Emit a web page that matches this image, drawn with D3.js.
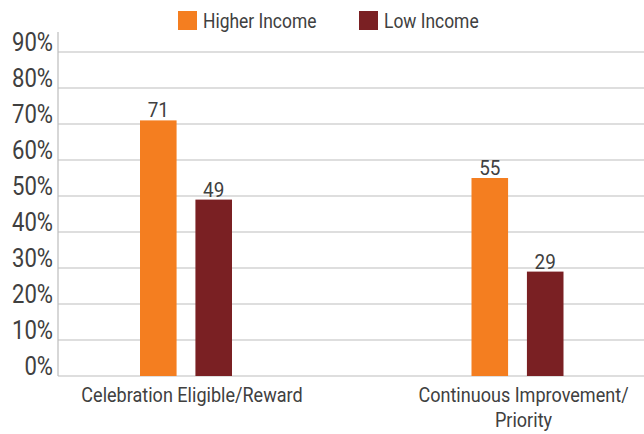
<!DOCTYPE html>
<html><head><meta charset="utf-8">
<script src="https://cdn.jsdelivr.net/npm/d3@7"></script>
<style>
body{margin:0;background:#fff;}
text{font-family:Roboto,"Liberation Sans",sans-serif;font-weight:400;fill:#404040;}
</style></head>
<body><svg id="c" width="644" height="434"></svg>
<script>
const categories = ["Celebration Eligible/Reward", "Continuous Improvement/\nPriority"];
const seriesNames = ["Higher Income", "Low Income"];
const higherIncome = [71, 55];
const lowIncome = [49, 29];
const yTicks = [0, 10, 20, 30, 40, 50, 60, 70, 80, 90];
const colors = ["#F47E20", "#7A2023"];

const svg = d3.select("#c");
const x0 = 58, x1 = 644, yTop = 52, yBot = 376;
const y = d3.scaleLinear().domain([0, 90]).range([yBot, yTop]);
const xc = d3.scalePoint().domain(categories).range([186, 517.5]);
const xs = d3.scaleBand().domain(seriesNames).range([-46, 46]).paddingInner(0.34);

function label(parent, x, yy, txt, size, anchor, k) {
  return parent.append("text")
    .attr("transform", `translate(${x},${yy}) scale(${k},1)`)
    .attr("text-anchor", anchor).attr("font-size", size).text(txt);
}

// gridlines
svg.append("g").selectAll("line").data(yTicks.filter(d => d > 0)).join("line")
  .attr("x1", x0).attr("x2", x1).attr("y1", d => y(d)).attr("y2", d => y(d))
  .attr("stroke", "#bdbdbd").attr("stroke-width", 1.2);
svg.append("line").attr("x1", x0).attr("x2", x1).attr("y1", yBot).attr("y2", yBot).attr("stroke", "#bdbdbd").attr("stroke-width", 1.2);
svg.append("line").attr("x1", x0).attr("x2", x0).attr("y1", 32).attr("y2", yBot).attr("stroke", "#bdbdbd").attr("stroke-width", 1.2);

// y tick labels
const gy = svg.append("g");
yTicks.forEach(d => label(gy, 53, y(d) - 1, d + "%", 26, "end", 0.85));

const series = [higherIncome, lowIncome];
series.forEach((vals, si) => {
  const g = svg.append("g");
  g.selectAll("rect").data(vals).join("rect")
    .attr("x", (d, i) => xc(categories[i]) + xs(seriesNames[si]))
    .attr("width", xs.bandwidth())
    .attr("y", d => y(d)).attr("height", d => yBot - y(d))
    .attr("fill", colors[si]);
  vals.forEach((d, i) => label(g, xc(categories[i]) + xs(seriesNames[si]) + xs.bandwidth() / 2, y(d) - 3, d, 21, "middle", 0.9));
});

// category labels
const gc = svg.append("g");
categories.forEach(c => {
  c.split("\n").forEach((l, i) => label(gc, xc(c) + 6, 402 + i * 25, l, 21, "middle", 0.86));
});

// legend
const legX = [178, 359];
seriesNames.forEach((n, i) => {
  svg.append("rect").attr("x", legX[i]).attr("y", 11).attr("width", 19).attr("height", 19).attr("fill", colors[i]);
  label(svg, legX[i] + 25, 28, n, 21, "start", 0.83);
});
</script></body></html>
